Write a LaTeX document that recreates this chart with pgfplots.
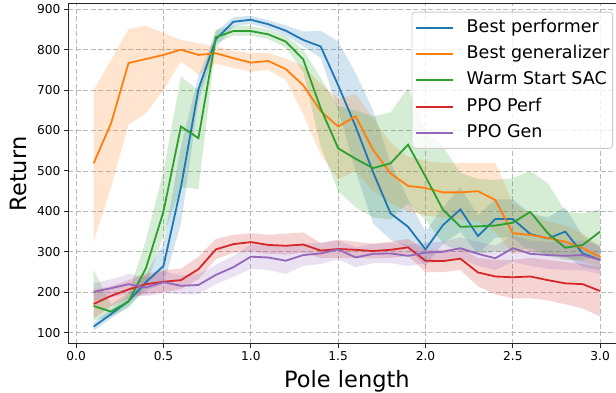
\documentclass[border=0pt]{standalone}
\usepackage{pgfplots}
\pgfplotsset{compat=1.18}
\usepackage{pgfplotstable}
\usepgfplotslibrary{fillbetween}
\usepackage{fontspec}
\setmainfont{DejaVu Sans}

\definecolor{tblue}{HTML}{1F77B4}
\definecolor{torange}{HTML}{FF7F0E}
\definecolor{tgreen}{HTML}{2CA02C}
\definecolor{tred}{HTML}{D62728}
\definecolor{tpurple}{HTML}{9467BD}
\definecolor{gridc}{HTML}{B8B8B8}
\definecolor{legc}{HTML}{CCCCCC}

\pgfplotstableread{
x m lo hi
0.1 115 105 125
0.2 146 135 158
0.3 178 165 192
0.4 225 205 245
0.5 265 220 320
0.6 460 370 560
0.7 702 672 735
0.8 826 805 845
0.9 869 857 880
1.0 874 864 884
1.1 863 852 873
1.2 847 835 860
1.3 824 808 845
1.4 808 780 847
1.5 712 650 820
1.6 610 500 742
1.7 497 370 650
1.8 395 330 520
1.9 362 310 430
2.0 306 265 350
2.1 366 320 410
2.2 405 350 460
2.3 339 295 390
2.4 381 335 430
2.5 381 335 430
2.6 344 300 395
2.7 333 290 385
2.8 350 290 410
2.9 296 262 340
3.0 280 255 310
}\bluetab

\pgfplotstableread{
x m lo hi
0.1 519 325 700
0.2 618 460 775
0.3 767 614 851
0.4 777 643 859
0.5 787 700 841
0.6 800 771 824
0.7 787 738 816
0.8 791 765 808
0.9 779 755 797
1.0 768 745 792
1.1 772 750 792
1.2 752 725 778
1.3 712 640 760
1.4 648 540 715
1.5 610 480 680
1.6 635 500 690
1.7 552 450 630
1.8 494 420 570
1.9 463 400 535
2.0 458 390 525
2.1 447 385 520
2.2 447 380 520
2.3 450 375 520
2.4 428 350 520
2.5 346 295 420
2.6 342 300 395
2.7 334 295 375
2.8 325 285 365
2.9 309 275 345
3.0 287 262 315
}\orangetab

\pgfplotstableread{
x m lo hi
0.1 166 130 255
0.2 152 140 170
0.3 177 162 198
0.4 260 215 330
0.5 400 340 500
0.6 610 460 733
0.7 581 455 700
0.8 831 815 850
0.9 846 835 858
1.0 846 835 858
1.1 838 826 850
1.2 820 805 835
1.3 776 745 800
1.4 655 560 730
1.5 556 450 660
1.6 530 410 650
1.7 507 385 635
1.8 519 380 645
1.9 565 420 705
2.0 486 380 600
2.1 404 320 560
2.2 362 300 495
2.3 363 295 480
2.4 365 300 478
2.5 372 300 482
2.6 399 310 500
2.7 346 290 470
2.8 310 280 400
2.9 317 280 395
3.0 350 290 405
}\greentab

\pgfplotstableread{
x m lo hi
0.1 171 135 205
0.2 191 165 215
0.3 207 185 230
0.4 220 195 245
0.5 226 200 255
0.6 230 208 258
0.7 257 232 288
0.8 306 282 332
0.9 319 298 342
1.0 324 300 346
1.1 317 295 342
1.2 315 293 345
1.3 318 298 348
1.4 303 285 322
1.5 307 285 330
1.6 305 285 325
1.7 302 284 320
1.8 305 285 325
1.9 311 290 332
2.0 278 250 305
2.1 277 250 305
2.2 283 255 310
2.3 249 215 285
2.4 239 195 280
2.5 237 185 280
2.6 239 185 285
2.7 230 180 280
2.8 222 170 275
2.9 220 160 270
3.0 203 140 262
}\redtab

\pgfplotstableread{
x m lo hi
0.1 201 178 222
0.2 210 188 232
0.3 220 195 245
0.4 212 190 237
0.5 225 198 252
0.6 216 195 242
0.7 218 195 245
0.8 243 220 268
0.9 262 238 290
1.0 288 258 318
1.1 286 255 318
1.2 278 245 315
1.3 292 265 320
1.4 296 270 322
1.5 306 282 328
1.6 286 262 312
1.7 295 272 320
1.8 296 272 322
1.9 290 265 318
2.0 298 272 322
2.1 300 275 325
2.2 309 285 335
2.3 295 265 325
2.4 284 255 315
2.5 309 275 340
2.6 295 265 328
2.7 292 258 325
2.8 290 255 325
2.9 292 255 328
3.0 280 245 315
}\purpletab

\begin{document}
\begin{tikzpicture}
\begin{axis}[
  scale only axis, width=557.2pt, height=340pt,
  xmin=-0.045, xmax=3.145, ymin=72, ymax=913,
  xtick={0,0.5,1,1.5,2,2.5,3},
  xticklabels={0.0,0.5,1.0,1.5,2.0,2.5,3.0},
  ytick={100,200,300,400,500,600,700,800,900},
  /pgf/number format/assume math mode=true,
  ticklabel style={font=\fontsize{12.2pt}{14pt}\selectfont},
  tick pos=left, tick align=outside, major tick length=4.3pt,
  tick style={line width=1pt, black!85},
  axis line style={line width=1pt, black!85},
  grid=major,
  major grid style={dashed, dash pattern=on 5pt off 2.5pt, color=gridc, line width=0.9pt},
  xlabel={Pole length}, ylabel={Return},
  label style={font=\fontsize{22.5pt}{26pt}\selectfont},
  xlabel style={at={(axis description cs:0.5,-0.1265)}, anchor=base},
  ylabel style={at={(axis description cs:-0.0747,0.5)}, anchor=base},
  legend style={at={(0.9776,0.9774)}, anchor=north east,
    font=\fontsize{17.5pt}{21pt}\selectfont,
    draw=legc, line width=0.9pt, rounded corners=3pt, fill=white, fill opacity=0.8, text opacity=1,
    inner xsep=3pt, inner ysep=7pt, row sep=9.3pt, column sep=13pt,
    nodes={inner sep=0pt, text height=13pt, text depth=4pt}},
  legend cell align=left,
  legend image code/.code={\draw[#1, line width=2pt, line cap=butt] (0pt,0pt) -- (36.7pt,0pt);},
  every axis plot/.append style={line width=1.8pt},
]
% bands
\addplot[draw=none, name path=bl, forget plot] table[x=x, y=lo] {\bluetab};
\addplot[draw=none, name path=bh, forget plot] table[x=x, y=hi] {\bluetab};
\addplot[fill=tblue, fill opacity=0.2, draw=none, forget plot] fill between[of=bl and bh];
\addplot[draw=none, name path=ol, forget plot] table[x=x, y=lo] {\orangetab};
\addplot[draw=none, name path=oh, forget plot] table[x=x, y=hi] {\orangetab};
\addplot[fill=torange, fill opacity=0.2, draw=none, forget plot] fill between[of=ol and oh];
\addplot[draw=none, name path=gl, forget plot] table[x=x, y=lo] {\greentab};
\addplot[draw=none, name path=gh, forget plot] table[x=x, y=hi] {\greentab};
\addplot[fill=tgreen, fill opacity=0.2, draw=none, forget plot] fill between[of=gl and gh];
\addplot[draw=none, name path=rl, forget plot] table[x=x, y=lo] {\redtab};
\addplot[draw=none, name path=rh, forget plot] table[x=x, y=hi] {\redtab};
\addplot[fill=tred, fill opacity=0.2, draw=none, forget plot] fill between[of=rl and rh];
\addplot[draw=none, name path=pl, forget plot] table[x=x, y=lo] {\purpletab};
\addplot[draw=none, name path=ph, forget plot] table[x=x, y=hi] {\purpletab};
\addplot[fill=tpurple, fill opacity=0.2, draw=none, forget plot] fill between[of=pl and ph];
% lines
\addplot[tblue, no markers] table[x=x, y=m] {\bluetab};
\addlegendentry{Best performer}
\addplot[torange, no markers] table[x=x, y=m] {\orangetab};
\addlegendentry{Best generalizer}
\addplot[tgreen, no markers] table[x=x, y=m] {\greentab};
\addlegendentry{Warm Start SAC}
\addplot[tred, no markers] table[x=x, y=m] {\redtab};
\addlegendentry{PPO Perf}
\addplot[tpurple, no markers] table[x=x, y=m] {\purpletab};
\addlegendentry{PPO Gen}
\end{axis}
\pgfresetboundingbox
\path[use as bounding box] (-68.3pt,-49pt) rectangle (547.7pt,344pt);
\end{tikzpicture}
\end{document}
